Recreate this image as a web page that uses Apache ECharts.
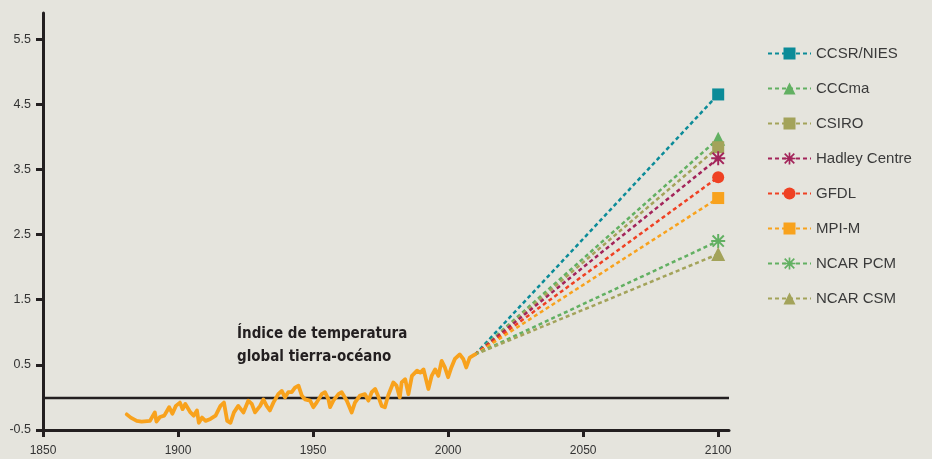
<!DOCTYPE html>
<html><head><meta charset="utf-8">
<script src="https://cdn.jsdelivr.net/npm/echarts@6/dist/echarts.min.js"></script>
<style>html,body{margin:0;padding:0;background:#e5e4dd;}#c{width:932px;height:459px;}</style>
</head><body><div id="c"></div>
<script>
// Observed global land-ocean temperature index (year, anomaly)
var obsYears = [1881,1882.5,1884.7,1886.5,1889.6,1891.4,1892,1893.3,1894.9,1896.7,1897.9,1899.2,1900.7,1901.7,1902.7,1904.6,1905.8,1907,1907.7,1908.9,1910.2,1912,1913.9,1915.7,1917,1918.2,1919.4,1920.7,1922.3,1924.2,1926,1927.3,1928.5,1930.4,1931.6,1932.8,1934,1935.3,1937.1,1938.4,1939.6,1940.8,1942.1,1943.3,1944.6,1945.8,1947,1948.9,1950.1,1951.3,1953.2,1954.4,1955.7,1956.3,1957.5,1959.4,1960.6,1962.5,1964.3,1965.5,1967.4,1969.2,1970.5,1971.7,1973,1974,1975.4,1976.6,1977.8,1979.7,1980.9,1982.1,1982.8,1984.1,1985.3,1986.6,1988.5,1989.7,1990.9,1992.1,1992.7,1993.9,1995.2,1996.4,1997.6,1998.8,2000,2001.2,2002.5,2004.3,2005.6,2006.7,2008,2009.2,2010];
var obsValues = [-0.26,-0.31,-0.36,-0.37,-0.36,-0.23,-0.37,-0.30,-0.28,-0.15,-0.25,-0.13,-0.08,-0.18,-0.10,-0.23,-0.28,-0.20,-0.39,-0.31,-0.36,-0.33,-0.28,-0.13,-0.08,-0.36,-0.39,-0.23,-0.13,-0.23,-0.05,-0.10,-0.23,-0.13,-0.03,-0.13,-0.20,-0.08,0.05,0.10,0.00,0.08,0.08,0.15,0.18,0.03,-0.03,-0.05,-0.15,-0.08,0.05,0.08,-0.03,-0.15,-0.05,0.05,0.08,-0.05,-0.23,-0.08,0.03,0.05,-0.05,0.08,0.13,0.03,-0.13,-0.15,0.03,0.23,0.18,0.00,0.23,0.28,0.05,0.33,0.41,0.38,0.43,0.23,0.13,0.33,0.43,0.33,0.56,0.46,0.31,0.46,0.59,0.66,0.59,0.46,0.61,0.64,0.66];

// Model projections: from 2010 to 2100
var models = ['CCSR/NIES','CCCma','CSIRO','Hadley Centre','GFDL','MPI-M','NCAR PCM','NCAR CSM'];
var projStartYear = 2010, projStartValue = 0.66, projEndYear = 2100;
var proj2100 = [4.65, 3.97, 3.84, 3.67, 3.38, 3.06, 2.40, 2.20];

var xTicks = [1850,1900,1950,2000,2050,2100];
var yTicks = [-0.5,0.5,1.5,2.5,3.5,4.5,5.5];

var colors = ['#0b8b98','#62b062','#a3a35a','#a3245a','#ef4123','#f8a21d','#62b062','#a3a35a'];
var asterisk = 'path://M8.6 0L11.4 0L11.4 20L8.6 20ZM0 8.6L20 8.6L20 11.4L0 11.4ZM3 1L19 17L17 19L1 3ZM17 1L19 3L3 19L1 17Z';
var symbols = ['rect','triangle','rect','ASTER','circle','rect','ASTER','triangle'];
var sizes = [12,14,12,14,12,12,14,14];

var font = '"Liberation Sans", Arial, sans-serif';
var chart = echarts.init(document.getElementById('c'));
var series = [];
series.push({
  name: 'obs', type: 'line', showSymbol: false, symbol: 'none', z: 5,
  data: obsYears.map(function(y,i){return [y, obsValues[i]];}),
  lineStyle: {color: '#f8a21d', width: 3.8, join: 'round', cap: 'round'},
  markLine: {silent: true, symbol: ['none','none'], label: {show: false},
    lineStyle: {color: '#231f20', width: 2.4, type: 'solid'}, data: [{yAxis: 0}]}
});
models.forEach(function(m, i){
  var sym = symbols[i] === 'ASTER' ? asterisk : symbols[i];
  series.push({
    name: m, type: 'line', z: 3,
    symbol: sym, symbolSize: sizes[i],
    itemStyle: {color: colors[i]},
    lineStyle: {color: colors[i], width: 2.5, type: [4,3]},
    data: [{value: [projStartYear, projStartValue], symbol: 'none'}, [projEndYear, proj2100[i]]]
  });
});

chart.setOption({
  animation: false,
  backgroundColor: '#e5e4dd',
  grid: {left: 43, right: 203, top: 13, bottom: 29},
  xAxis: {type: 'value', min: 1850, max: 2104,
    axisLine: {onZero: false, lineStyle: {color: '#231f20', width: 3}},
    axisTick: {show: true, customValues: xTicks, length: 7, lineStyle: {color: '#231f20', width: 3}},
    axisLabel: {customValues: xTicks, margin: 15, color: '#333', fontSize: 12, fontFamily: font,
      formatter: function(v){return String(v);}},
    splitLine: {show: false}},
  yAxis: {type: 'value', min: -0.5, max: 5.9,
    axisLine: {show: true, onZero: false, lineStyle: {color: '#231f20', width: 3}},
    axisTick: {show: true, customValues: yTicks, length: 7, lineStyle: {color: '#231f20', width: 3}},
    axisLabel: {customValues: yTicks, margin: 12, color: '#333', fontSize: 12.5, fontFamily: font,
      formatter: function(v){return v.toFixed(1);}},
    splitLine: {show: false}},
  legend: {orient: 'vertical', left: 767, top: 46, padding: 0, itemWidth: 43, itemHeight: 15, itemGap: 20,
    data: models, textStyle: {fontSize: 15, color: '#3a3a3a', fontFamily: font}},
  graphic: [{type: 'text', left: 237, top: 323,
    style: {text: 'Índice de temperatura\nglobal tierra-océano', fill: '#231f20',
      font: 'bold 15px "Liberation Sans Narrow", "DejaVu Sans Condensed", sans-serif', lineHeight: 23}}],
  series: series
});
</script></body></html>
